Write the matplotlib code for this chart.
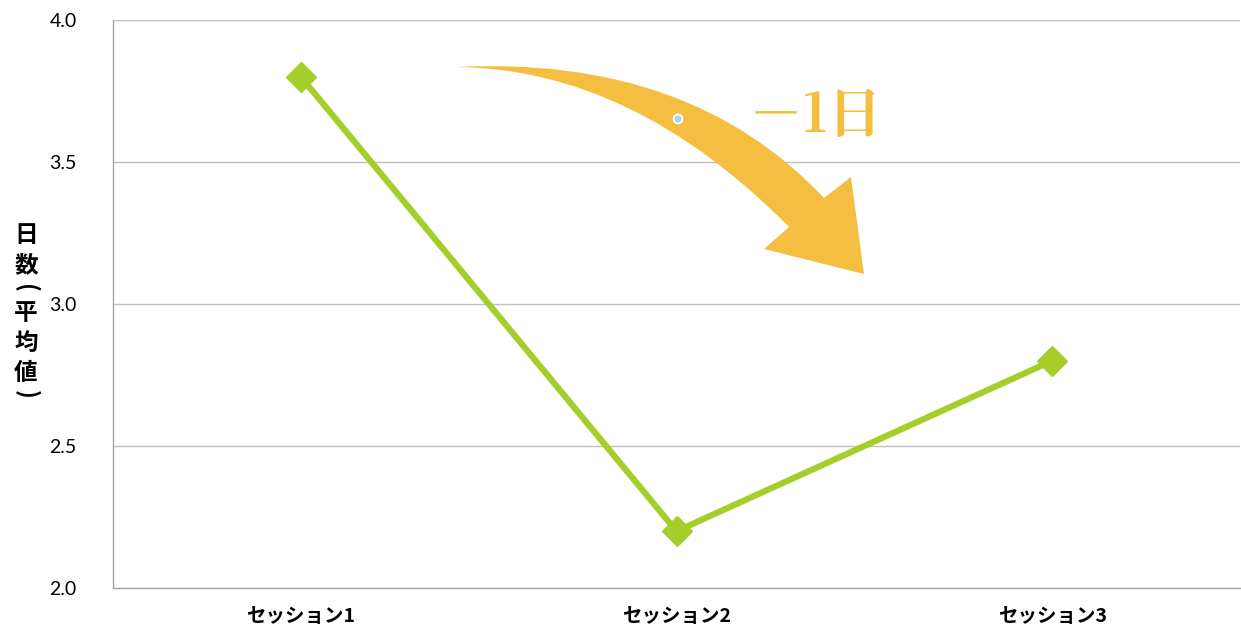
import numpy as np
import matplotlib
matplotlib.use('Agg')
import matplotlib.pyplot as plt
from matplotlib.path import Path
import matplotlib.patches as mpatches
import matplotlib.transforms as mtransforms

plt.rcParams['font.family'] = ['Noto Sans CJK JP', 'DejaVu Sans']

# データ
sessions = ['セッション1', 'セッション2', 'セッション3']
days_mean = [3.8, 2.2, 2.8]
y_ticks = [2.0, 2.5, 3.0, 3.5, 4.0]
y_label_chars = ['日', '数', '(', '平', '均', '値', ')']
note_text = '－1日'

GREEN = '#A6CE2B'
ARROW = '#F4BF40'
GRID = '#BFBFBF'

W, H = 1241, 637
fig = plt.figure(figsize=(W / 100, H / 100), dpi=100)
ax = fig.add_axes([113 / W, 1 - 588 / H, (1240 - 113) / W, (588 - 20) / H])

x = np.arange(len(sessions))
ax.plot(x, days_mean, color=GREEN, linewidth=4.5, marker='D', markersize=15,
        markerfacecolor=GREEN, markeredgecolor=GREEN, zorder=3, clip_on=False)

ax.set_xlim(-0.5, len(sessions) - 0.5)
ax.set_ylim(2.0, 4.0)
ax.set_yticks(y_ticks)
ax.set_yticklabels([f'{v:.1f}' for v in y_ticks], fontsize=14, family=['Lato', 'DejaVu Sans'])
ax.set_xticks(x)
ax.set_xticklabels(sessions, fontsize=14, fontweight='bold')
ax.tick_params(axis='y', length=0, pad=26)
ax.tick_params(axis='x', length=0, pad=14)
ax.grid(True, axis='y', color=GRID, linewidth=1)
ax.set_axisbelow(True)
for side in ['top', 'right']:
    ax.spines[side].set_visible(False)
for side in ['left', 'bottom']:
    ax.spines[side].set_color('#A6A6A6')
    ax.spines[side].set_linewidth(1)

# 縦書きの軸ラベル (括弧は回転させて縦書き風に)
ys = [235, 265, 288, 313, 343, 373, 394]
for ch, py in zip(y_label_chars, ys):
    rot = -90 if ch in '()' else 0
    fig.text(26 / W, 1 - py / H, ch, ha='center', va='center', fontsize=17,
             fontweight='bold', color='black', rotation=rot)

# 曲線矢印 (ピクセル座標 -> 図座標)
px = mtransforms.Affine2D().scale(1 / W, -1 / H).translate(0, 1) + fig.transFigure
verts = [(455, 67), (690, 55), (824, 198),
         (851, 177), (864, 274), (764, 249), (789, 227),
         (632, 68), (455, 67), (455, 67)]
codes = [Path.MOVETO, Path.CURVE3, Path.CURVE3,
         Path.LINETO, Path.LINETO, Path.LINETO, Path.LINETO,
         Path.CURVE3, Path.CURVE3, Path.CLOSEPOLY]
arrow = mpatches.PathPatch(Path(verts, codes), facecolor=ARROW, edgecolor='none',
                           transform=px, zorder=4)
fig.patches.append(arrow)
fig.add_artist(mpatches.Circle((678, 119), 4.5, facecolor='#A9D4FF', edgecolor='white',
                               linewidth=1.2, transform=px, zorder=5))

fig.text(815 / W, 1 - 117 / H, note_text, ha='center', va='center', fontsize=39,
         fontweight='bold', color=ARROW, family=['Noto Serif CJK JP', 'Noto Sans CJK JP', 'DejaVu Serif'])

fig.savefig('out.png', dpi=100)
